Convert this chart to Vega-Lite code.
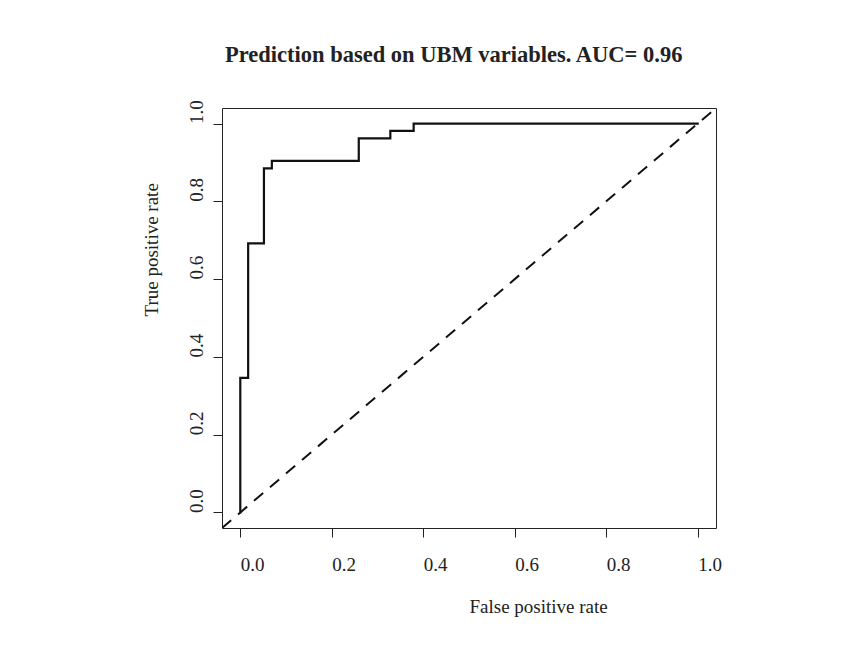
{
  "$schema": "https://vega.github.io/schema/vega-lite/v6.json",
  "width": 494,
  "height": 420,
  "autosize": {"type": "none"},
  "padding": {"left": 222, "top": 108, "right": 127, "bottom": 123},
  "background": "white",
  "title": {
    "text": "Prediction based on UBM variables. AUC= 0.96",
    "anchor": "start",
    "frame": "group",
    "font": "Liberation Serif",
    "fontSize": 22.5,
    "fontWeight": "bold",
    "color": "#222222",
    "baseline": "alphabetic",
    "offset": 15,
    "dx": 3
  },
  "datasets": {
    "roc": [
      {"step": 1, "fpr": 0, "tpr": 0},
      {"step": 2, "fpr": 0, "tpr": 0.346},
      {"step": 3, "fpr": 0.0172, "tpr": 0.346},
      {"step": 4, "fpr": 0.0172, "tpr": 0.692},
      {"step": 5, "fpr": 0.0517, "tpr": 0.692},
      {"step": 6, "fpr": 0.0517, "tpr": 0.885},
      {"step": 7, "fpr": 0.069, "tpr": 0.885},
      {"step": 8, "fpr": 0.069, "tpr": 0.904},
      {"step": 9, "fpr": 0.259, "tpr": 0.904},
      {"step": 10, "fpr": 0.259, "tpr": 0.962},
      {"step": 11, "fpr": 0.328, "tpr": 0.962},
      {"step": 12, "fpr": 0.328, "tpr": 0.981},
      {"step": 13, "fpr": 0.379, "tpr": 0.981},
      {"step": 14, "fpr": 0.379, "tpr": 1},
      {"step": 15, "fpr": 1, "tpr": 1}
    ],
    "diag": [
      {"step": 1, "fpr": -0.04, "tpr": -0.04},
      {"step": 2, "fpr": 1.04, "tpr": 1.04}
    ]
  },
  "layer": [
    {
      "data": {"name": "diag"},
      "mark": {"type": "line", "color": "#111111", "strokeWidth": 2, "strokeDash": [12, 9], "clip": true},
      "encoding": {
        "x": {"field": "fpr", "type": "quantitative"},
        "y": {"field": "tpr", "type": "quantitative"},
        "order": {"field": "step", "type": "quantitative"}
      }
    },
    {
      "data": {"name": "roc"},
      "mark": {"type": "line", "color": "#111111", "strokeWidth": 2.2, "strokeJoin": "miter", "strokeCap": "square"},
      "encoding": {
        "x": {
          "field": "fpr",
          "type": "quantitative",
          "scale": {"domain": [-0.04, 1.04], "nice": false, "zero": false},
          "axis": {
            "title": "False positive rate",
            "values": [0, 0.2, 0.4, 0.6, 0.8, 1],
            "format": ".1f",
            "labelAlign": "left",
            "labelBaseline": "alphabetic",
            "labelPadding": 33,
            "titleX": 247,
            "titleY": 84,
            "titleAlign": "left",
            "titleAnchor": "start",
            "titleBaseline": "alphabetic"
          }
        },
        "y": {
          "field": "tpr",
          "type": "quantitative",
          "scale": {"domain": [-0.04, 1.04], "nice": false, "zero": false},
          "axis": {
            "title": "True positive rate",
            "values": [0, 0.2, 0.4, 0.6, 0.8, 1],
            "format": ".1f",
            "labelAngle": -90,
            "labelAlign": "left",
            "labelBaseline": "alphabetic",
            "labelPadding": 11,
            "titleAngle": -90,
            "titleX": -65,
            "titleY": 208,
            "titleAlign": "left",
            "titleAnchor": "start",
            "titleBaseline": "alphabetic"
          }
        },
        "order": {"field": "step", "type": "quantitative"}
      }
    }
  ],
  "config": {
    "view": {"stroke": "#222222", "strokeWidth": 1},
    "axis": {
      "domain": false,
      "grid": false,
      "ticks": true,
      "tickSize": 9,
      "tickColor": "#222222",
      "tickWidth": 1,
      "labelFont": "Liberation Serif",
      "labelFontSize": 19,
      "labelColor": "#222222",
      "labelFlush": false,
      "labelOverlap": false,
      "titleFont": "Liberation Serif",
      "titleFontSize": 19,
      "titleFontWeight": "normal",
      "titleColor": "#222222"
    }
  }
}
